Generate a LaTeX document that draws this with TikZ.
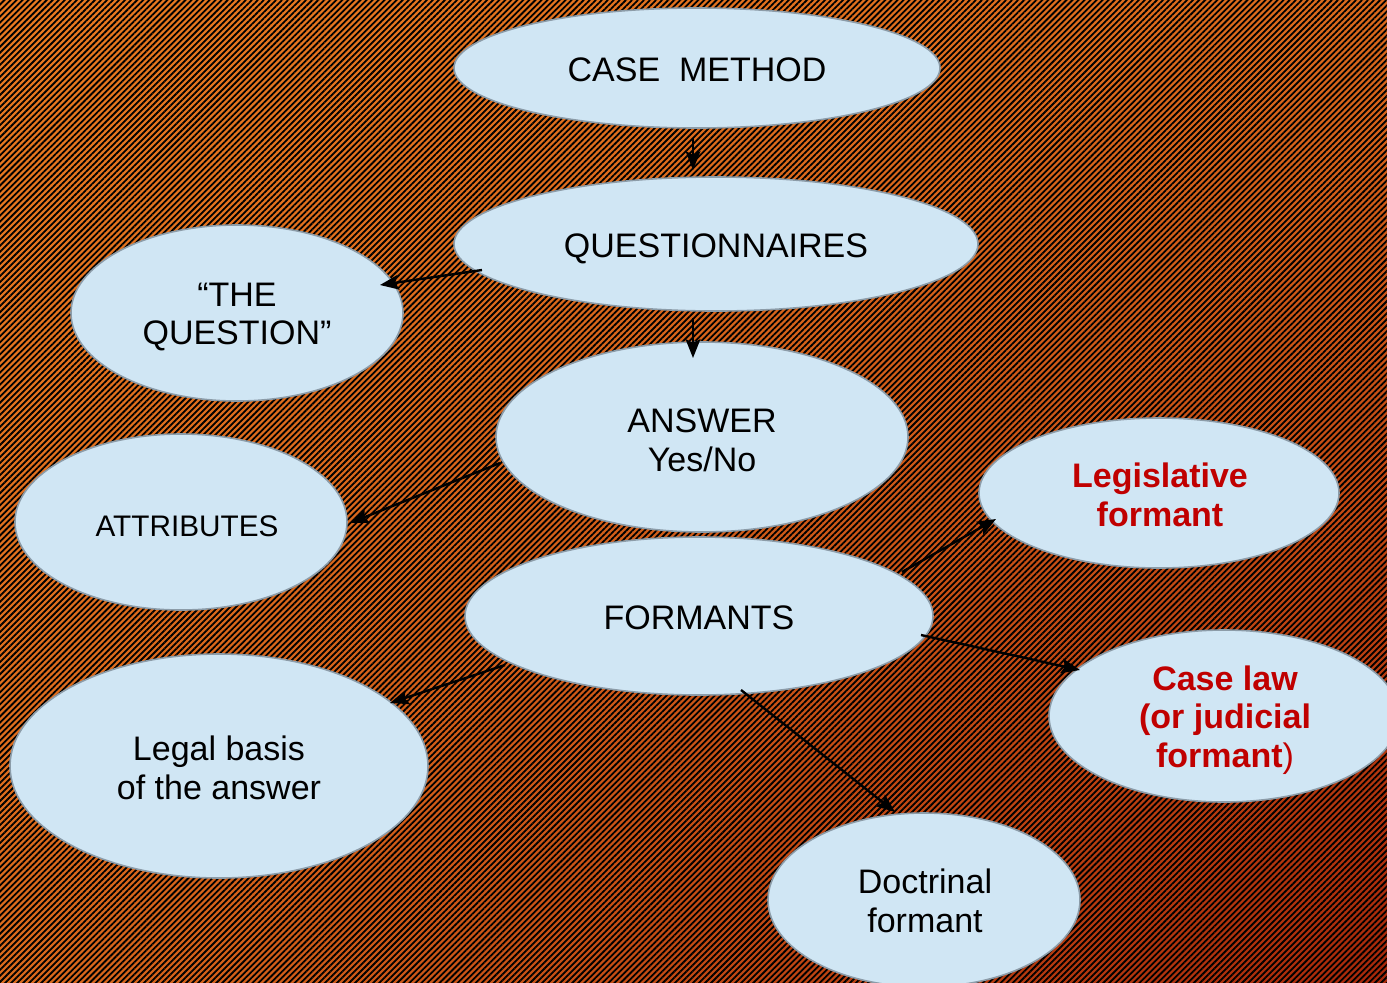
\documentclass[tikz,border=0pt]{standalone}
\usepackage{fontspec}
\setmainfont{Liberation Sans}
\usetikzlibrary{shapes.geometric,calc,arrows.meta,patterns.meta,shadings}
\definecolor{bgA}{HTML}{EA7A20}
\definecolor{bgB}{HTML}{DC6A1C}
\definecolor{bgC}{HTML}{A8280A}
\definecolor{ellfill}{HTML}{D0E6F4}
\definecolor{ellline}{HTML}{8C9CA8}
\definecolor{redtxt}{HTML}{C00000}
\tikzset{
  bubble/.style={ellipse, draw=ellline, line width=1.2pt, fill=ellfill, inner sep=0pt},
  txt/.style={align=center, inner sep=0pt, font=\fontsize{25.5}{29}\selectfont},
  redtxt/.style={txt, text=redtxt, font=\fontsize{25.5}{29}\selectfont\bfseries},
  arr/.style={line width=1.8pt, -{Stealth[length=14pt,width=11pt,inset=2.5pt]}}
}
\begin{document}
\begin{tikzpicture}[x=0.75pt,y=-0.75pt]
\useasboundingbox (0,0) rectangle (1387,982);
\shade[upper left=bgA, upper right=bgB, lower left=bgB, lower right=bgC] (0,0) rectangle (1387,982);
\fill[pattern={Lines[angle=45,distance=3.2pt,line width=1.35pt]}, pattern color=black] (0,0) rectangle (1387,982);

\node[bubble, minimum width=364.5pt, minimum height=90pt] (cm) at (697,68) {};
\node[bubble, minimum width=393pt, minimum height=100.5pt] (q) at (716,244) {};
\node[bubble, minimum width=249pt, minimum height=132pt] (tq) at (237,313) {};
\node[bubble, minimum width=309pt, minimum height=142.5pt] (ans) at (702,437) {};
\node[bubble, minimum width=249pt, minimum height=132pt] (att) at (181,522) {};
\node[bubble, minimum width=270pt, minimum height=112.5pt] (leg) at (1159,493) {};
\node[bubble, minimum width=351pt, minimum height=118.5pt] (for) at (699,616) {};
\node[bubble, minimum width=262.5pt, minimum height=129pt] (cl) at (1224,716) {};
\node[bubble, minimum width=313.5pt, minimum height=168pt] (lb) at (219,766) {};
\node[bubble, minimum width=234pt, minimum height=130.5pt] (doc) at (924,900) {};

\node[txt] (cm-t) at ($(cm)+(0,2)$) {CASE\ \ METHOD};
\node[txt] (q-t) at ($(q)+(0,5)$) {QUESTIONNAIRES};
\node[txt] (tq-t) at ($(tq)+(0,4)$) {“THE\\QUESTION”};
\node[txt] (ans-t) at ($(ans)+(0,3)$) {ANSWER\\Yes/No};
\node[txt, font=\fontsize{22.3}{26}\selectfont] (att-t) at ($(att)+(6,4)$) {ATTRIBUTES};
\node[redtxt] (leg-t) at ($(leg)+(1,2)$) {Legislative\\formant};
\node[txt] (for-t) at ($(for)+(0,2)$) {FORMANTS};
\node[redtxt] (cl-t) at ($(cl)+(1,4)$) {Case law\\(or judicial\\formant\mdseries)};
\node[txt] (lb-t) at ($(lb)+(0,2)$) {Legal basis\\of the answer};
\node[txt] (doc-t) at ($(doc)+(1,1)$) {Doctrinal\\formant};

\draw[arr] ($(cm)+(-4,70)$) -- ($(q)+(-23,-74)$);
\draw[arr] ($(q)+(-234,26)$) -- ($(tq)+(143,-28)$);
\draw[arr] ($(q)+(-23,74)$) -- ($(ans)+(-9,-79)$);
\draw[arr] ($(ans)+(-202,26)$) -- ($(att)+(169,1)$);
\draw[arr] ($(for)+(203,-44)$) -- ($(leg)+(-163,26)$);
\draw[arr] ($(for)+(222,19)$) -- ($(cl)+(-144,-46)$);
\draw[arr] ($(for)+(-194,49)$) -- ($(lb)+(171,-63)$);
\draw[arr] ($(for)+(42,74)$) -- ($(doc)+(-29,-88)$);
\end{tikzpicture}
\end{document}
